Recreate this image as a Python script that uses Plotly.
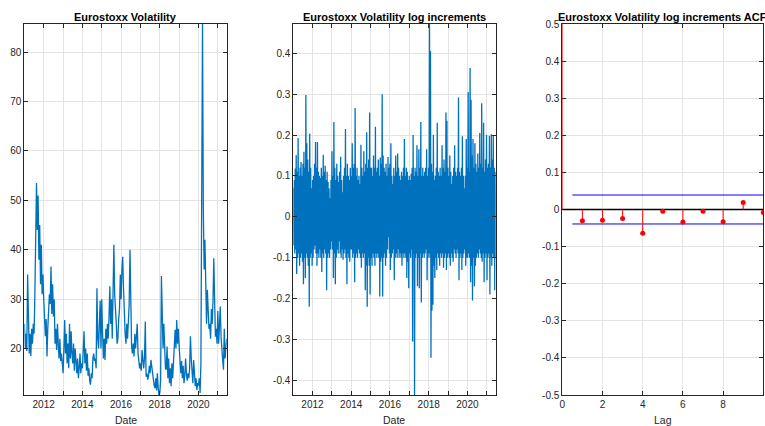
import plotly.graph_objects as go
import pandas as pd

# ---------------- data: Eurostoxx volatility level (semi-monthly readings) ----------------
vol_2011 = [25, 20, 23, 19.5, 35, 22, 19, 23, 18.5, 24, 21, 25, 23, 31, 45, 53.5, 44, 51, 38, 45, 33, 41, 31, 35]
vol_2012 = [30, 26, 22.5, 26, 18.4, 24, 27, 31, 29, 36.6, 27, 33, 26.5, 30, 21, 24, 19.7, 25, 21, 18, 22, 17.5, 19, 16]
vol_2013 = [15, 20, 25.8, 19, 23, 17, 21, 16, 25, 18, 23.5, 19, 17, 21, 15.5, 20, 17, 15, 18, 14, 16, 19, 15, 17]
vol_2014 = [16, 19, 23.5, 17, 20, 15.5, 19, 14.5, 16, 13.5, 12.7, 15, 14, 18, 19, 17.5, 18, 16, 32.2, 22, 20, 25, 29.7, 20]
vol_2015 = [30, 23, 18, 22, 17.7, 24, 21, 25, 22, 26.5, 32.6, 25, 30, 22, 35, 41, 31, 26, 25, 21, 22, 26, 28, 35]
vol_2016 = [30, 36, 38.6, 32, 26, 23, 21, 25, 22, 27, 29, 40, 25, 20.5, 19, 21, 18.4, 23, 20, 22, 25, 19, 17, 16]
vol_2017 = [17, 15.5, 19.7, 17, 16, 18, 25.5, 14.3, 15, 13.7, 14.5, 16.5, 15, 17.7, 16.3, 14, 13.5, 12.5, 12, 14, 11.5, 15, 12, 10.6]
vol_2018 = [11, 13.5, 34.7, 24, 20, 25, 19, 16, 15.7, 20.4, 14, 18, 13, 16, 12.4, 17, 14, 18.4, 19, 23.8, 20, 25.8, 21, 24]
vol_2019 = [20.4, 17, 15, 17.5, 14, 16.5, 13, 14.5, 18, 15, 13.5, 15, 14, 16, 22.5, 18, 15, 13, 17.7, 13, 12.4, 14, 11.6, 13]
vol_2020 = [12.5, 14, 11, 17, 42, 85.7, 48, 36, 42, 30, 25, 31.9, 27, 24, 25, 22, 28, 25, 29.7, 38.3, 30, 22.4, 24, 21]
vol_2021 = [27.6, 21, 24.5, 28.5, 22.4, 19, 17.7, 15.7, 24, 18, 20, 22]

# ---------------- data: log increments (upper and lower excursions, in time order) ----------------
inc_up_2011 = [0.07, 0.09, 0.118, 0.151, 0.11, 0.193, 0.1, 0.12, 0.134, 0.1, 0.13, 0.159, 0.12, 0.298, 0.18, 0.14, 0.11, 0.203, 0.12, 0.07]
inc_up_2012 = [0.09, 0.1, 0.13, 0.183, 0.12, 0.183, 0.11, 0.1, 0.095, 0.12, 0.1, 0.152, 0.11, 0.125, 0.09, 0.11, 0.085, 0.07, 0.045, 0.09]
inc_up_2013 = [0.16, 0.1, 0.232, 0.12, 0.09, 0.13, 0.1, 0.085, 0.11, 0.147, 0.09, 0.06, 0.1, 0.12, 0.215, 0.1, 0.13, 0.1, 0.09, 0.12]
inc_up_2014 = [0.1, 0.18, 0.12, 0.13, 0.266, 0.1, 0.12, 0.09, 0.1, 0.08, 0.176, 0.12, 0.1, 0.16, 0.11, 0.13, 0.207, 0.12, 0.14, 0.255]
inc_up_2015 = [0.12, 0.12, 0.1, 0.15, 0.12, 0.22, 0.11, 0.12, 0.14, 0.1, 0.145, 0.13, 0.3, 0.15, 0.12, 0.11, 0.13, 0.1, 0.146, 0.12]
inc_up_2016 = [0.13, 0.18, 0.1, 0.08, 0.12, 0.1, 0.15, 0.11, 0.155, 0.12, 0.1, 0.09, 0.11, 0.1, 0.12, 0.19, 0.1, 0.12, 0.11, 0.09]
inc_up_2017 = [0.1, 0.09, 0.105, 0.12, 0.2, 0.1, 0.12, 0.11, 0.175, 0.1, 0.165, 0.12, 0.232, 0.1, 0.12, 0.1, 0.11, 0.12, 0.165, 0.1]
inc_up_2018 = [0.12, 0.4716, 0.405, 0.13, 0.11, 0.2, 0.09, 0.1, 0.12, 0.23, 0.11, 0.1, 0.12, 0.1, 0.175, 0.12, 0.14, 0.11, 0.255, 0.235]
inc_up_2019 = [0.12, 0.1, 0.15, 0.11, 0.08, 0.1, 0.12, 0.175, 0.11, 0.1, 0.12, 0.292, 0.11, 0.1, 0.12, 0.197, 0.1, 0.07, 0.1, 0.19]
inc_up_2020 = [0.12, 0.305, 0.11, 0.364, 0.286, 0.15, 0.19, 0.12, 0.18, 0.13, 0.11, 0.155, 0.12, 0.205, 0.13, 0.278, 0.12, 0.23, 0.11, 0.14]
inc_up_2021 = [0.2, 0.12, 0.13, 0.198, 0.12, 0.202, 0.14, 0.2, 0.12, 0.11]

inc_dn_2011 = [-0.07, -0.09, -0.08, -0.14, -0.1, -0.09, -0.12, -0.1, -0.09, -0.11, -0.165, -0.1, -0.15, -0.09, -0.1, -0.12, -0.22, -0.1, -0.09, -0.12]
inc_dn_2012 = [-0.1, -0.08, -0.07, -0.09, -0.12, -0.09, -0.1, -0.08, -0.1, -0.135, -0.09, -0.1, -0.08, -0.09, -0.18, -0.1, -0.09, -0.1, -0.08, -0.06]
inc_dn_2013 = [-0.08, -0.15, -0.09, -0.165, -0.1, -0.08, -0.09, -0.06, -0.09, -0.1, -0.08, -0.105, -0.09, -0.08, -0.1, -0.165, -0.09, -0.1, -0.11, -0.08]
inc_dn_2014 = [-0.08, -0.1, -0.09, -0.16, -0.1, -0.09, -0.1, -0.08, -0.09, -0.1, -0.125, -0.09, -0.1, -0.09, -0.18, -0.12, -0.22, -0.1, -0.12, -0.19]
inc_dn_2015 = [-0.1, -0.12, -0.09, -0.1, -0.12, -0.09, -0.1, -0.09, -0.1, -0.195, -0.11, -0.1, -0.195, -0.1, -0.09, -0.12, -0.1, -0.08, -0.05, -0.09]
inc_dn_2016 = [-0.13, -0.1, -0.09, -0.08, -0.155, -0.1, -0.09, -0.1, -0.08, -0.1, -0.09, -0.1, -0.12, -0.09, -0.1, -0.09, -0.1, -0.15, -0.11, -0.175]
inc_dn_2017 = [-0.09, -0.1, -0.08, -0.305, -0.09, -0.436, -0.1, -0.09, -0.17, -0.1, -0.175, -0.09, -0.21, -0.1, -0.09, -0.1, -0.09, -0.08, -0.155, -0.1]
inc_dn_2018 = [-0.09, -0.1, -0.345, -0.23, -0.215, -0.12, -0.15, -0.1, -0.13, -0.09, -0.1, -0.12, -0.09, -0.1, -0.09, -0.125, -0.1, -0.09, -0.13, -0.1]
inc_dn_2019 = [-0.09, -0.1, -0.12, -0.09, -0.1, -0.11, -0.08, -0.09, -0.1, -0.08, -0.09, -0.155, -0.1, -0.09, -0.13, -0.1, -0.09, -0.08, -0.12, -0.1]
inc_dn_2020 = [-0.1, -0.09, -0.1, -0.16, -0.12, -0.205, -0.1, -0.17, -0.12, -0.1, -0.09, -0.1, -0.08, -0.09, -0.1, -0.11, -0.09, -0.16, -0.1, -0.09]
inc_dn_2021 = [-0.155, -0.1, -0.09, -0.19, -0.1, -0.12, -0.09, -0.1, -0.18, -0.1]

# ---------------- data: ACF ----------------
acf_lags = [0, 1, 2, 3, 4, 5, 6, 7, 8, 9, 10]
acf_values = [1.0, -0.030, -0.029, -0.024, -0.064, -0.005, -0.034, -0.005, -0.033, 0.019, -0.008]
acf_bound = 0.039

year_ticks = list(range(2012, 2022))
year_labels = [str(y) if y % 2 == 0 else "" for y in year_ticks]

# ---------------- assemble ----------------
vol_values = (vol_2011 + vol_2012 + vol_2013 + vol_2014 + vol_2015 + vol_2016 +
              vol_2017 + vol_2018 + vol_2019 + vol_2020 + vol_2021)
vol_dates = pd.date_range("2011-01-03", "2021-06-18", periods=len(vol_values))

inc_up = (inc_up_2011 + inc_up_2012 + inc_up_2013 + inc_up_2014 + inc_up_2015 + inc_up_2016 +
          inc_up_2017 + inc_up_2018 + inc_up_2019 + inc_up_2020 + inc_up_2021)
inc_dn = (inc_dn_2011 + inc_dn_2012 + inc_dn_2013 + inc_dn_2014 + inc_dn_2015 + inc_dn_2016 +
          inc_dn_2017 + inc_dn_2018 + inc_dn_2019 + inc_dn_2020 + inc_dn_2021)
inc_values = []
for u, d in zip(inc_up, inc_dn):
    inc_values += [u, d]
inc_dates = pd.date_range("2011-01-04", "2021-06-18", periods=len(inc_values))

W, H = 765, 426
FONT = "Liberation Sans, Arial, Helvetica, sans-serif"
AX = "#262626"
GRID = "#e4e4e4"
BLUE = "#0072BD"

def px_x(p):
    return p / W

def px_y(p):
    return 1 - p / H

dom_y = [px_y(395), px_y(24)]
dom1 = [px_x(24.4), px_x(226.7)]
dom2 = [px_x(293.3), px_x(495.7)]
dom3 = [px_x(562.3), px_x(763.3)]

common = dict(showline=True, linecolor=AX, linewidth=1, mirror="allticks",
              ticks="inside", ticklen=4, tickcolor=AX, tickwidth=1,
              showgrid=True, gridcolor=GRID, gridwidth=1, zeroline=False,
              automargin=False,
              tickfont=dict(family=FONT, size=10, color=AX))

fig = go.Figure()

fig.add_trace(go.Scatter(x=vol_dates, y=vol_values, mode="lines",
                         line=dict(color=BLUE, width=1.3), xaxis="x", yaxis="y",
                         showlegend=False, hoverinfo="skip"))
fig.add_trace(go.Scatter(x=inc_dates, y=inc_values, mode="lines",
                         line=dict(color=BLUE, width=1.3), xaxis="x2", yaxis="y2",
                         showlegend=False, hoverinfo="skip"))

# ACF stems
sx, sy = [], []
for l, v in zip(acf_lags, acf_values):
    sx += [l, l, None]
    sy += [0, v, None]
fig.add_trace(go.Scatter(x=[0, acf_lags[-1]], y=[0, 0], mode="lines",
                         line=dict(color="black", width=1.3), xaxis="x3", yaxis="y3",
                         showlegend=False, hoverinfo="skip"))
fig.add_trace(go.Scatter(x=[0.5, acf_lags[-1]], y=[acf_bound, acf_bound], mode="lines",
                         line=dict(color="#0000FF", width=1), xaxis="x3", yaxis="y3",
                         showlegend=False, hoverinfo="skip"))
fig.add_trace(go.Scatter(x=[0.5, acf_lags[-1]], y=[-acf_bound, -acf_bound], mode="lines",
                         line=dict(color="#0000FF", width=1), xaxis="x3", yaxis="y3",
                         showlegend=False, hoverinfo="skip"))
fig.add_trace(go.Scatter(x=sx, y=sy, mode="lines",
                         line=dict(color="#FF0000", width=1), xaxis="x3", yaxis="y3",
                         showlegend=False, hoverinfo="skip"))
fig.add_trace(go.Scatter(x=acf_lags, y=acf_values, mode="markers",
                         marker=dict(color="#FF0000", size=5), xaxis="x3", yaxis="y3",
                         showlegend=False, hoverinfo="skip"))

year_vals = [f"{y}-01-01" for y in year_ticks]

fig.update_layout(
    width=W, height=H, margin=dict(l=0, r=0, t=0, b=0, pad=0, autoexpand=False),
    paper_bgcolor="white", plot_bgcolor="white",
    xaxis=dict(domain=dom1, anchor="y", type="date",
               range=[vol_dates[0], vol_dates[-1]],
               tickmode="array", tickvals=year_vals, ticktext=year_labels, **common),
    yaxis=dict(domain=dom_y, anchor="x",
               range=[min(vol_values), max(vol_values)],
               tickmode="array", tickvals=[20, 30, 40, 50, 60, 70, 80],
               ticktext=["20", "30", "40", "50", "60", "70", "80"], **common),
    xaxis2=dict(domain=dom2, anchor="y2", type="date",
                range=[inc_dates[0], inc_dates[-1]],
                tickmode="array", tickvals=year_vals, ticktext=year_labels, **common),
    yaxis2=dict(domain=dom_y, anchor="x2",
                range=[min(inc_values), max(inc_values)],
                tickmode="array",
                tickvals=[-0.4, -0.3, -0.2, -0.1, 0, 0.1, 0.2, 0.3, 0.4],
                ticktext=["-0.4", "-0.3", "-0.2", "-0.1", "0", "0.1", "0.2", "0.3", "0.4"],
                **common),
    xaxis3=dict(domain=dom3, anchor="y3", range=[0, 10], layer="below traces",
                tickmode="array", tickvals=[0, 2, 4, 6, 8, 10],
                ticktext=["0", "2", "4", "6", "8", "10"], **common),
    yaxis3=dict(domain=dom_y, anchor="x3", range=[-0.5, 0.5], layer="below traces",
                tickmode="array",
                tickvals=[-0.5, -0.4, -0.3, -0.2, -0.1, 0, 0.1, 0.2, 0.3, 0.4, 0.5],
                ticktext=["-0.5", "-0.4", "-0.3", "-0.2", "-0.1", "0", "0.1", "0.2", "0.3", "0.4", "0.5"],
                **common),
)

titles = ["Eurostoxx Volatility", "Eurostoxx Volatility log increments",
          "Eurostoxx Volatility log increments ACF"]
xlabels = ["Date", "Date", "Lag"]
for dom, t, xl in zip([dom1, dom2, dom3], titles, xlabels):
    cx = (dom[0] + dom[1]) / 2
    fig.add_annotation(x=cx, y=px_y(17.3), xref="paper", yref="paper", text=f"<b>{t}</b>",
                       showarrow=False, xanchor="center", yanchor="middle",
                       font=dict(family=FONT, size=11, color="black"))
    fig.add_annotation(x=cx, y=px_y(420), xref="paper", yref="paper", text=xl,
                       showarrow=False, xanchor="center", yanchor="middle",
                       font=dict(family=FONT, size=10.5, color=AX))

fig.write_html("out.html")
